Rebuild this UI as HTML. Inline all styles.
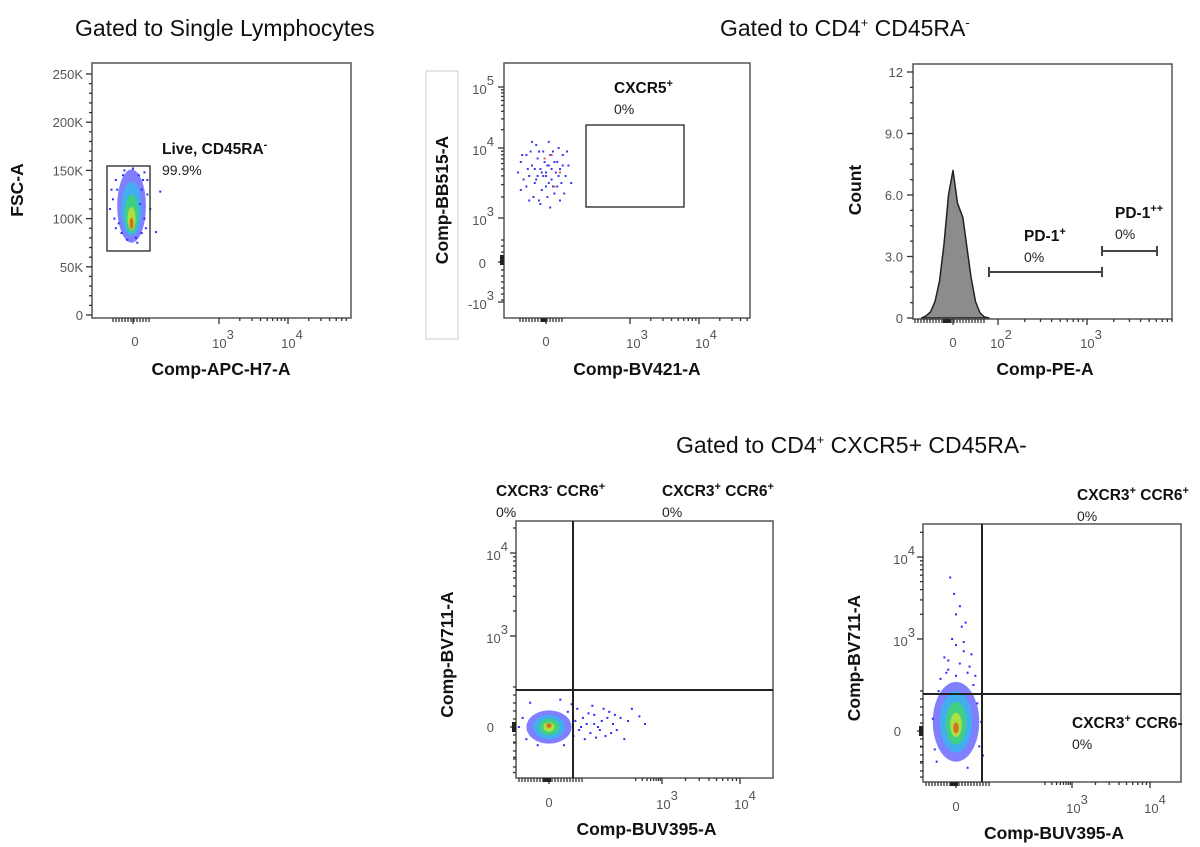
<!DOCTYPE html>
<html><head><meta charset="utf-8"><style>
body{margin:0;background:#fff}
svg{display:block;font-family:"Liberation Sans",Arial,sans-serif}
.tt{font-family:"Liberation Sans",sans-serif;font-size:23px;fill:#111}
.gl{font-size:15.5px;font-weight:bold;fill:#111}
.gp{font-size:14px;fill:#222}
.tk{font-size:13px;fill:#555}
.at{font-size:17.5px;font-weight:bold;fill:#111}
</style></head><body>
<svg id="fig" width="1200" height="847" viewBox="0 0 1200 847">
<text class="tt" x="75" y="36">Gated to Single Lymphocytes</text>
<text class="tt" x="720" y="36">Gated to CD4<tspan font-size="13" dy="-9">+</tspan><tspan dy="9"> CD45RA</tspan><tspan font-size="13" dy="-9">-</tspan></text>
<text class="tt" x="676" y="453">Gated to CD4<tspan font-size="13" dy="-9">+</tspan><tspan dy="9"> CXCR5+ CD45RA-</tspan></text>
<rect x="426" y="71" width="32" height="268" fill="none" stroke="#ccc"/>
</svg>
<script>
// ---------- data ----------
const p1Points=[[-0.6,140],[-0.7,120],[-0.5,95],[-0.8,110],[0.3,130],[0.4,100],[0.5,125],[0.2,145],[-0.3,150],[0,152],[0.1,80],[-0.2,78],[0.3,85],[-0.4,85],[0.6,110],[0.35,140],[-0.65,100],[0.45,90],[0.25,115],[-0.55,130],[0.95,128],[0.8,86],[0.15,75],[-0.35,145],[0.4,148],[-0.6,90],[0.5,140],[-0.75,130]];
const p1Blobs=[[-0.05,113,0.5,38,0],[-0.05,110,0.36,28,1],[-0.05,105,0.24,20,2],[-0.05,100,0.14,12,3],[-0.05,95,0.07,6,4]];
const p2Points=[[-0.9,3.8],[-0.7,3.9],[-0.6,3.6],[-0.5,3.75],[-0.4,3.5],[-0.3,3.85],[-0.2,3.7],[-0.1,3.6],[0,3.65],[0.1,3.75],[0.2,3.55],[0.3,3.8],[0.4,3.45],[0.5,3.7],[0.6,3.9],[0.7,3.6],[-0.8,3.55],[-0.55,3.95],[-0.35,4.05],[-0.15,3.4],[0.05,3.3],[0.25,3.95],[0.45,4.0],[0.65,3.35],[-0.45,3.3],[-0.25,3.25],[0.15,3.9],[0.35,3.65],[-0.05,3.8],[-0.65,3.7],[0.55,3.5],[-1.0,3.65],[0.8,3.75],[0.9,3.5],[-0.3,3.6],[0,3.45],[0.2,3.7],[-0.1,3.95],[0.1,3.5],[-0.4,3.7],[0.3,3.35],[-0.7,3.45],[0.45,3.6],[-0.2,3.2],[0.1,4.1],[-0.5,4.1],[0.6,3.75],[-0.85,3.9],[0.75,3.95],[0,3.6],[0.05,3.75],[-0.15,3.65],[0.25,3.45],[-0.35,3.55],[0.4,3.8],[-0.6,3.25],[0.15,3.15],[-0.25,3.95],[0.5,3.25],[-0.9,3.4]];
const p2Red=[[0.2,3.9],[0.5,3.65],[0.3,3.45],[-0.05,3.85]];
const histBins=[-1.4,-1.2,-1.0,-0.8,-0.6,-0.4,-0.2,0,0.2,0.44,0.6,0.8,1.0,1.2,1.4,1.6];
const histCounts=[0,0.1,0.3,0.8,1.8,3.6,6.0,7.2,5.6,4.9,3.6,2.0,0.8,0.25,0.05,0];
const p4Blobs=[[0,0,0.6,0.55,0],[0,0,0.42,0.4,1],[0,0,0.28,0.27,2],[0,0,0.15,0.16,3],[0,0.05,0.07,0.08,4]];
const p4Points=[[0.7,0.2],[0.8,-0.1],[0.9,0.3],[1.0,0.1],[1.1,-0.2],[1.2,0.4],[1.3,0.0],[1.4,0.2],[1.5,-0.3],[1.6,0.5],[1.7,0.1],[1.8,-0.1],[1.9,0.3],[2.0,-0.4],[2.1,0.2],[2.2,0.6],[2.4,0.35],[2.55,0.1],[0.75,0.6],[0.95,-0.4],[1.15,0.7],[1.35,-0.1],[1.55,0.3],[1.75,0.4],[0.85,0.0],[1.05,0.45],[1.25,-0.35],[0.6,0.75],[-0.5,0.8],[-0.7,0.3],[-0.6,-0.4],[0.4,-0.6],[0.3,0.9],[-0.3,-0.6],[0.5,0.5],[-0.8,0.0],[1.45,0.6],[1.65,-0.2],[0.65,-0.3],[1.2,0.1]];
const p5Blobs=[[0,0.3,0.6,1.3,0],[0,0.3,0.42,1.0,1],[0,0.25,0.27,0.7,2],[0,0.2,0.15,0.4,3],[0,0.1,0.07,0.18,4]];
const p5Points=[[0,1.8],[-0.2,2.0],[0.3,1.9],[0.1,2.2],[-0.3,2.4],[0.2,2.6],[0,2.8],[0.4,2.5],[-0.1,3.0],[0.15,3.15],[0,3.3],[-0.05,3.55],[0.1,3.4],[0.25,3.2],[-0.15,3.75],[0.35,2.1],[-0.4,1.7],[0.5,1.8],[-0.5,-1.0],[0.6,-0.5],[-0.6,0.4],[0.55,0.9],[0.7,-0.8],[-0.55,-0.6],[0.65,0.3],[-0.45,1.3],[0.45,1.5],[0.3,-1.2],[-0.25,1.9],[0.2,2.9],[-0.2,2.3]];
const colors=["#2a2aff","#22c8e8","#3ee04a","#e6e81a","#e8351a"];

// ---------- helpers ----------
const NS="http://www.w3.org/2000/svg";
const svg=document.getElementById('fig');
function el(t,a,p){const e=document.createElementNS(NS,t);for(const k in a)e.setAttribute(k,a[k]);(p||svg).appendChild(e);return e;}
function pw(ds,ps){return v=>{let i=0;while(i<ds.length-2&&v>ds[i+1])i++;return ps[i]+(v-ds[i])*(ps[i+1]-ps[i])/(ds[i+1]-ds[i]);};}
function frame(g,x0,y0,x1,y1,name){const r=el('rect',{x:x0,y:y0,width:x1-x0,height:y1-y0,fill:'none',stroke:'#555','stroke-width':1.5},g);
}
function xtick(g,x,y,len){el('line',{x1:x,x2:x,y1:y,y2:y+len,stroke:'#333','stroke-width':1.3},g);}
function ytick(g,x,y,len){el('line',{x1:x-len,x2:x,y1:y,y2:y,stroke:'#333','stroke-width':1.3},g);}
function powLabel(g,x,y,exp,anchor,name){const t=el('text',{x:x,y:y,class:'tk','text-anchor':anchor||'middle'},g);t.textContent='10';
const s=el('tspan',{dy:-9,'font-size':13},t);s.textContent=exp;return t;}
function txt(g,x,y,cls,s,anchor,name){const t=el('text',{x:x,y:y,class:cls,'text-anchor':anchor||'start'},g);t.textContent=s;return t;}
function supTxt(g,x,y,parts,name){const t=el('text',{x:x,y:y,class:'gl'},g);parts.forEach(p=>{const s=el('tspan',p[1]?{'font-size':11,dy:-6}:{dy:p[2]||0},t);s.textContent=p[0];});return t;}
function rotTitle(g,x,y,s,name){const t=el('text',{x:x,y:y,class:'at','text-anchor':'middle',transform:`rotate(-90 ${x} ${y})`},g);t.textContent=s;}
function logMinors(g,xs,from,to,y,vertical,maxm){for(let k=from;k<to;k++)for(let m=2;m<=(maxm||9);m++){const v=xs(k+Math.log10(m));if(vertical)ytick(g,y,v,3);else xtick(g,v,y,3);}}
function dots(g,pts,xs,ys,c,name){pts.forEach(p=>{const r=el('rect',{x:xs(p[0])-1,y:ys(p[1])-1,width:2,height:2,fill:c},g);});}
function blobs(g,bl,xs,ys,name){bl.forEach(b=>{const cx=xs(b[0]),cy=ys(b[1]);const e=el('ellipse',{cx:cx,cy:cy,rx:Math.abs(xs(b[0]+b[2])-cx),ry:Math.abs(ys(b[1]+b[3])-cy),fill:colors[b[4]],opacity:b[4]==0?0.6:0.65},g);});}
function hatch(g,x0,x1,y){for(let x=x0;x<=x1;x+=3)xtick(g,x,y,4);}

// ---------- panel 1 ----------
{const g=el('g',{});
const xs=pw([0,3,4],[133,219,288]);const ys=v=>315-v/250*241;
blobs(g,p1Blobs,xs,ys,'density-blob');dots(g,p1Points,xs,ys,colors[0],'cell-dot');
frame(g,92,63,351,318,'plot-frame');
[0,50,100,150,200,250].forEach(v=>{ytick(g,92,ys(v),6);txt(g,83,ys(v)+5,'tk',v?v+'K':'0','end','y-tick-label');});
for(let v=10;v<250;v+=10)if(v%50)ytick(g,92,ys(v),3);
xtick(g,133,318,6);xtick(g,219,318,6);xtick(g,288,318,6);hatch(g,113,150,318);logMinors(g,xs,3,4,318);for(let m=2;m<=7;m++)xtick(g,xs(4+Math.log10(m)),318,3);
txt(g,135,346,'tk','0','middle','x-tick-label');powLabel(g,223,348,'3','middle','x-tick-label');powLabel(g,292,348,'4','middle','x-tick-label');
const gate=el('rect',{x:107,y:166,width:43,height:85,fill:'none',stroke:'#222','stroke-width':1.3},g);
supTxt(g,162,154,[['Live, CD45RA'],['-',1]],'gate-label');txt(g,162,175,'gp','99.9%','start','gate-percent');
txt(g,221,375,'at','Comp-APC-H7-A','middle','x-axis-title');rotTitle(g,23,190,'FSC-A','y-axis-title');}

// ---------- panel 2 ----------
{const g=el('g',{});
const xs=pw([0,3,4],[546,630,699]);const ys=pw([-3,0,3,4,5],[302,262,218,148,87]);
dots(g,p2Points,xs,ys,'#3a3af5','cell-dot');dots(g,p2Red,xs,ys,'#e85050','cell-dot');
frame(g,504,63,750,318,'plot-frame');
[[5,87],[4,148],[3,218]].forEach(t=>{ytick(g,504,t[1],6);powLabel(g,494,t[1]+7,String(t[0]),'end','y-tick-label');});
ytick(g,504,262,6);txt(g,486,268,'tk','0','end','y-tick-label');ytick(g,504,302,6);
const ml=el('text',{x:494,y:309,class:'tk','text-anchor':'end'},g);ml.textContent='-10';const ms=el('tspan',{dy:-9},ml);ms.textContent='3';
logMinors(g,ys,3,5,504,true);for(let y=240;y<=300;y+=6)ytick(g,504,y,3);
el('rect',{x:500,y:255,width:4,height:10,fill:'#222'},g);
xtick(g,546,318,6);xtick(g,630,318,6);xtick(g,699,318,6);hatch(g,520,563,318);logMinors(g,xs,3,4,318);for(let m=2;m<=5;m++)xtick(g,xs(4+Math.log10(m)),318,3);
el('rect',{x:541,y:318,width:5,height:4,fill:'#222'},g);
txt(g,546,346,'tk','0','middle','x-tick-label');powLabel(g,637,348,'3','middle','x-tick-label');powLabel(g,706,348,'4','middle','x-tick-label');
const gate=el('rect',{x:586,y:125,width:98,height:82,fill:'none',stroke:'#222','stroke-width':1.3},g);
supTxt(g,614,93,[['CXCR5'],['+',1]],'gate-label');txt(g,614,114,'gp','0%','start','gate-percent');
txt(g,637,375,'at','Comp-BV421-A','middle','x-axis-title');rotTitle(g,448,200,'Comp-BB515-A','y-axis-title');}

// ---------- panel 3 ----------
{const g=el('g',{});
const xs=pw([0,2,3],[953,998,1087]);const ys=v=>318-v*20.5;
let d='M'+xs(histBins[0])+','+ys(0);histBins.forEach((b,i)=>{d+=' L'+xs(b).toFixed(1)+','+ys(histCounts[i]).toFixed(1);});d+=' Z';
const h=el('path',{d:d,fill:'#8c8c8c',stroke:'#222','stroke-width':1.5,'stroke-linejoin':'round'},g);
frame(g,913,64,1172,319,'plot-frame');
[[0,'0'],[3,'3.0'],[6,'6.0'],[9,'9.0'],[12,'12']].forEach(t=>{ytick(g,913,ys(t[0]),6);txt(g,903,ys(t[0])+5,'tk',t[1],'end','y-tick-label');});
for(let v=0.75;v<12;v+=0.75)if(v%3)ytick(g,913,ys(v),3);
xtick(g,953,319,6);xtick(g,998,319,6);xtick(g,1087,319,6);hatch(g,915,985,319);logMinors(g,xs,2,3,319);for(let m=2;m<=9;m++)xtick(g,xs(3+Math.log10(m)),319,3);
el('rect',{x:943,y:319,width:8,height:4,fill:'#222'},g);
txt(g,953,347,'tk','0','middle','x-tick-label');powLabel(g,1001,348,'2','middle','x-tick-label');powLabel(g,1091,348,'3','middle','x-tick-label');
function bar(x0,x1,y,name){const b=el('g',{},g);
el('line',{x1:x0,x2:x1,y1:y,y2:y,stroke:'#444','stroke-width':2},b);el('line',{x1:x0,x2:x0,y1:y-5,y2:y+5,stroke:'#444','stroke-width':2},b);el('line',{x1:x1,x2:x1,y1:y-5,y2:y+5,stroke:'#444','stroke-width':2},b);}
bar(989,1102,272,'pd1-pos-gate');bar(1102,1157,251,'pd1-high-gate');
supTxt(g,1024,241,[['PD-1'],['+',1]],'gate-label');txt(g,1024,262,'gp','0%','start','gate-percent');
supTxt(g,1115,218,[['PD-1'],['++',1]],'gate-label');txt(g,1115,239,'gp','0%','start','gate-percent');
txt(g,1045,375,'at','Comp-PE-A','middle','x-axis-title');rotTitle(g,861,190,'Count','y-axis-title');}

// ---------- bottom panels ----------
function quad(cfg){const g=el('g',{});
const xs=pw([0,3,4],cfg.xa);const ys=pw([0,3,4],cfg.ya);
blobs(g,cfg.blobs,xs,ys,'density-blob');dots(g,cfg.pts,xs,ys,colors[0],'cell-dot');
frame(g,cfg.x0,cfg.y0,cfg.x1,cfg.y1,'plot-frame');
[[4,cfg.ya[2]],[3,cfg.ya[1]]].forEach(t=>{ytick(g,cfg.x0,t[1],6);powLabel(g,cfg.x0-8,t[1]+7,String(t[0]),'end','y-tick-label');});
ytick(g,cfg.x0,cfg.ya[0],6);txt(g,cfg.x0-22,cfg.ya[0]+5,'tk','0','end','y-tick-label');
logMinors(g,ys,3,4,cfg.x0,true);ytick(g,cfg.x0,ys(4+Math.log10(2)),3);for(let y=cfg.ya[0]-40;y<=cfg.ya[0]+40;y+=8)ytick(g,cfg.x0,y,3);
for(let v=-1.5;v<=-0.5;v+=0.5)ytick(g,cfg.x0,ys(v),3);
el('rect',{x:cfg.x0-4,y:cfg.ya[0]-5,width:4,height:10,fill:'#222'},g);
xtick(g,cfg.xa[0],cfg.y1,6);xtick(g,cfg.xa[1],cfg.y1,6);xtick(g,cfg.xa[2],cfg.y1,6);hatch(g,cfg.x0+3,cfg.xa[0]+35,cfg.y1);logMinors(g,xs,3,4,cfg.y1);for(let m=2;m<=9;m++)xtick(g,xs(2+Math.log10(m)),cfg.y1,3);
el('rect',{x:cfg.xa[0]-6,y:cfg.y1,width:8,height:4,fill:'#222'},g);
txt(g,cfg.xa[0],cfg.y1+29,'tk','0','middle','x-tick-label');powLabel(g,cfg.xa[1]+5,cfg.y1+31,'3','middle','x-tick-label');powLabel(g,cfg.xa[2]+5,cfg.y1+31,'4','middle','x-tick-label');
const vl=el('line',{x1:cfg.gx,x2:cfg.gx,y1:cfg.y0,y2:cfg.y1,stroke:'#222','stroke-width':2},g);
const hl=el('line',{x1:cfg.x0,x2:cfg.x1,y1:cfg.gy,y2:cfg.gy,stroke:'#222','stroke-width':2},g);
cfg.labels.forEach(l=>{supTxt(g,l[0],l[1],l[2],'quadrant-label');txt(g,l[0],l[1]+21,'gp','0%','start','quadrant-percent');});
txt(g,(cfg.x0+cfg.x1)/2+2,cfg.y1+57,'at','Comp-BUV395-A','middle','x-axis-title');rotTitle(g,cfg.x0-63,(cfg.y0+cfg.y1)/2+5,'Comp-BV711-A','y-axis-title');}
quad({name:'panel-quadrant-1',x0:516,y0:521,x1:773,y1:778,xa:[549,662,740],ya:[727,636,553],gx:573,gy:690,blobs:p4Blobs,pts:p4Points,
labels:[[496,496,[['CXCR3'],['-',1],[' CCR6',0,6],['+',1]]],[662,496,[['CXCR3'],['+',1],[' CCR6',0,6],['+',1]]]]});
quad({name:'panel-quadrant-2',x0:923,y0:524,x1:1181,y1:782,xa:[956,1072,1150],ya:[731,639,557],gx:982,gy:694,blobs:p5Blobs,pts:p5Points,
labels:[[1077,500,[['CXCR3'],['+',1],[' CCR6',0,6],['+',1]]],[1072,728,[['CXCR3'],['+',1],[' CCR6-',0,6]]]]});
</script>
</body></html>
